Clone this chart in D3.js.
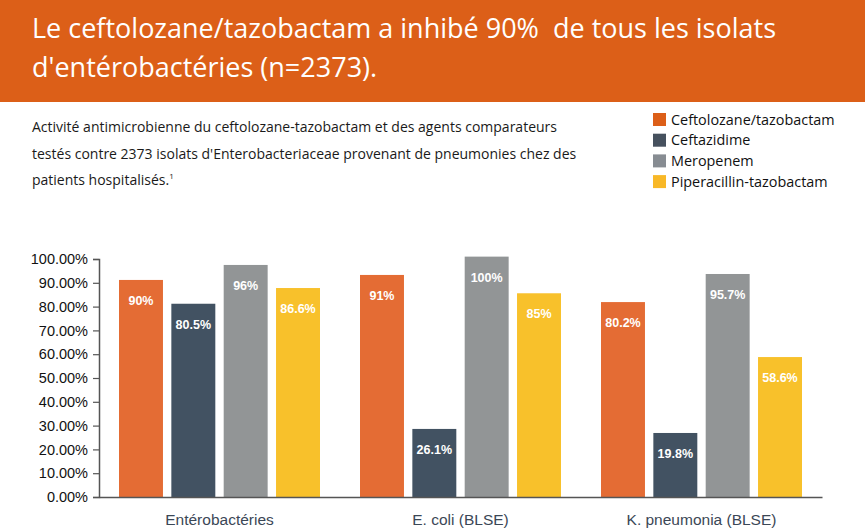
<!DOCTYPE html>
<html>
<head>
<meta charset="utf-8">
<script src="https://cdn.jsdelivr.net/npm/d3@7"></script>
<style>
  body { margin: 0; background: #fff; }
  svg { display: block; font-family: "Open Sans", "Noto Sans", sans-serif; }
</style>
</head>
<body>
<svg id="chart" width="865" height="531"></svg>
<script>
// data
const groups = ["Entérobactéries", "E. coli (BLSE)", "K. pneumonia (BLSE)"];
const series = ["Ceftolozane/tazobactam", "Ceftazidime", "Meropenem", "Piperacillin-tazobactam"];
// bar heights as drawn (%)
const ceftoTazo = [91.2, 93.3, 81.9];
const ceftazidime = [81.2, 28.6, 26.9];
const meropenem = [97.5, 101, 93.7];
const piperaTazo = [87.8, 85.6, 58.8];
// printed labels on the bars
const ceftoTazoLbl = ["90%", "91%", "80.2%"];
const ceftazidimeLbl = ["80.5%", "26.1%", "19.8%"];
const meropenemLbl = ["96%", "100%", "95.7%"];
const piperaTazoLbl = ["86.6%", "85%", "58.6%"];
const yTicks = [0, 10, 20, 30, 40, 50, 60, 70, 80, 90, 100];

const titleLines = ["Le ceftolozane/tazobactam a inhibé 90%  de tous les isolats", "d'entérobactéries (n=2373)."];
const subLines = [
    "Activité antimicrobienne du ceftolozane-tazobactam et des agents comparateurs",
    "testés contre 2373 isolats d'Enterobacteriaceae provenant de pneumonies chez des",
    "patients hospitalisés."
];

const colors = ["#e46c34", "#425262", "#929596", "#f8c12b"];
const legendColors = ["#dc5f18", "#46515e", "#878c92", "#f8b827"];

const values = [ceftoTazo, ceftazidime, meropenem, piperaTazo];
const labels = [ceftoTazoLbl, ceftazidimeLbl, meropenemLbl, piperaTazoLbl];

const svg = d3.select("#chart");

// banner
svg.append("rect")
    .attr("x", 0).attr("y", 0)
    .attr("width", 865).attr("height", 102)
    .attr("fill", "#dc5f18");

svg.selectAll(".title")
    .data(titleLines)
  .enter().append("text")
    .attr("class", "title")
    .attr("x", 32)
    .attr("y", (d, i) => 38 + i * 39)
    .attr("fill", "#fff")
    .style("font-size", "27px")
    .style("white-space", "pre")
    .text(d => d);

// subtitle
const sub = svg.selectAll(".sub")
    .data(subLines)
  .enter().append("text")
    .attr("class", "sub")
    .attr("x", 32)
    .attr("y", (d, i) => 132 + i * 26.5)
    .attr("fill", "#1a1a1a")
    .style("font-size", "14px")
    .text(d => d);
sub.filter((d, i) => i === 2)
  .append("tspan")
    .attr("dy", -6)
    .style("font-size", "8px")
    .text("1");

// legend
const legend = svg.append("g").attr("transform", "translate(653,113)");
const li = legend.selectAll("g")
    .data(series)
  .enter().append("g")
    .attr("transform", (d, i) => `translate(0,${i * 20.7})`);
li.append("rect")
    .attr("width", 13).attr("height", 13)
    .attr("fill", (d, i) => legendColors[i]);
li.append("text")
    .attr("x", 18).attr("y", 11.5)
    .attr("fill", "#111")
    .style("font-size", "14.4px")
    .text(d => d);

// scales
const x0 = d3.scaleBand().domain(groups).range([99, 822]);
const x1 = d3.scaleBand().domain(d3.range(series.length))
    .range([20, x0.bandwidth() - 20]).paddingInner(0.16);
const y = d3.scaleLinear().domain([0, 100]).range([497, 259]);

// y axis
const yAxis = svg.append("g")
    .attr("transform", "translate(99,0)")
    .call(d3.axisLeft(y).tickValues(yTicks).tickSize(6)
        .tickFormat(d => d.toFixed(2) + "%"));
yAxis.select(".domain").attr("stroke", "#555").attr("stroke-width", 1.5);
yAxis.selectAll(".tick line").attr("stroke", "#555").attr("stroke-width", 1.2);
yAxis.selectAll(".tick text")
    .attr("x", -11)
    .attr("fill", "#111")
    .style("font-size", "14.5px");

// bars
const g = svg.selectAll(".group")
    .data(groups)
  .enter().append("g")
    .attr("class", "group")
    .attr("transform", d => `translate(${x0(d)},0)`);

g.each(function(grp, gi) {
    const sel = d3.select(this);
    series.forEach((s, si) => {
        const v = values[si][gi];
        sel.append("rect")
            .attr("x", x1(si))
            .attr("y", y(v))
            .attr("width", x1.bandwidth())
            .attr("height", y(0) - y(v))
            .attr("fill", colors[si]);
        sel.append("text")
            .attr("x", x1(si) + x1.bandwidth() / 2)
            .attr("y", y(v) + 25)
            .attr("text-anchor", "middle")
            .attr("fill", "#fff")
            .style("font-family", "'Liberation Sans', Arial, sans-serif")
            .style("font-weight", "bold")
            .style("font-size", "12.5px")
            .text(labels[si][gi]);
    });
});

// x axis
const xAxis = svg.append("g")
    .attr("transform", "translate(0,497)")
    .call(d3.axisBottom(x0).tickSize(0).tickSizeOuter(0));
xAxis.select(".domain").attr("stroke", "#555").attr("stroke-width", 1.5);
xAxis.selectAll(".tick text")
    .attr("y", 17)
    .attr("fill", "#3b4756")
    .style("font-size", "15.5px");
</script>
</body>
</html>
